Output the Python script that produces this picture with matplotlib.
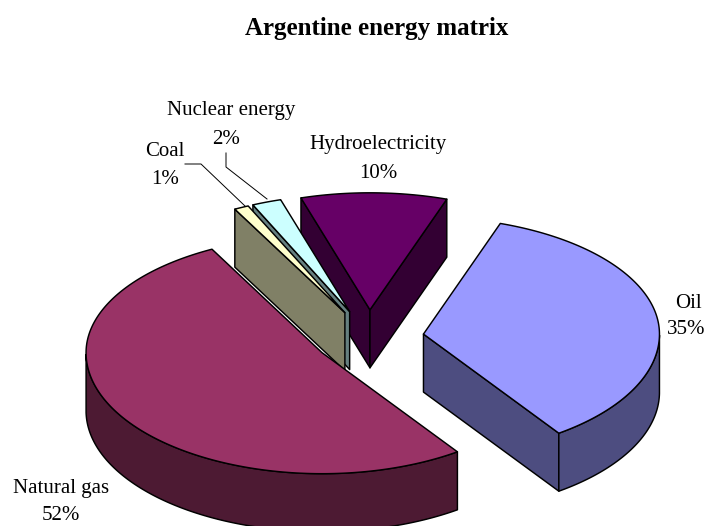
import numpy as np
import matplotlib
matplotlib.use('Agg')
import matplotlib.pyplot as plt
from matplotlib.patches import Polygon

plt.rcParams['font.family'] = ['Liberation Serif', 'DejaVu Serif']

# clockwise from the first slice
names = ['Oil', 'Natural gas', 'Coal', 'Nuclear energy', 'Hydroelectricity']
values = [35, 52, 1, 2, 10]
top_colors = ['#9999FF', '#993366', '#FFFFCC', '#CCFFFF', '#660066']
side_colors = ['#4D4D80', '#4D1A33', '#808066', '#668080', '#330033']

name_pos = [(688, 303), (61, 488), (165, 152), (231, 111), (378, 145)]
pct_pos = [(686, 330), (61, 515), (165, 180), (226, 139), (378, 173)]
leaders = [
    [(185, 164), (201, 164), (245, 206)],
    [(226, 153), (226, 167), (267, 199)],
]

# pie geometry, in pixels; the far half of the ellipse is a bit flatter
cx, cy = 369, 338
rx, ry_front, ry_back = 236, 121, 117
depth = 58
explode = 55
first_angle = 71
lw = 1.05


def rim(x0, y0, ts):
    ts = np.radians(ts)
    s = np.sin(ts)
    return np.column_stack([x0 + rx * np.cos(ts),
                            y0 - np.where(s > 0, ry_back, ry_front) * s])


def face(ax, pts, color):
    ax.add_patch(Polygon(pts, closed=True, facecolor=color, edgecolor='black',
                         linewidth=lw, joinstyle='round'))


def draw_slice(ax, start, end, top, side):
    # start > end, the slice runs clockwise
    mid = np.radians((start + end) / 2)
    x0 = cx + explode * np.cos(mid)
    y0 = cy - explode * ry_front / rx * np.sin(mid)
    down = np.array([0, depth])
    apex = np.array([x0, y0])

    # cut faces that look towards the viewer
    for t, visible in ((start, np.cos(np.radians(start)) < 0),
                       (end, np.cos(np.radians(end)) > 0)):
        if visible:
            p = rim(x0, y0, [t])[0]
            face(ax, [apex, p, p + down, apex + down], side)

    # outer wall, only the front half of the rim
    ts = np.linspace(start, end, 200)
    front = ts[np.sin(np.radians(ts)) < 0]
    if len(front) > 1:
        upper = rim(x0, y0, front)
        face(ax, np.vstack([upper, upper[::-1] + down]), side)

    face(ax, np.vstack([[apex], rim(x0, y0, ts)]), top)


fig = plt.figure(figsize=(7.04, 5.26), dpi=100)
ax = fig.add_axes([0, 0, 1, 1])
ax.set_xlim(0, 704)
ax.set_ylim(526, 0)
ax.axis('off')

# slice angles from the values
sweeps = np.array(values) / sum(values) * 360
starts = first_angle - np.concatenate([[0], np.cumsum(sweeps)[:-1]])
ends = starts - sweeps

# back to front
for i in [4, 3, 2, 0, 1]:
    draw_slice(ax, starts[i], ends[i], top_colors[i], side_colors[i])

for line in leaders:
    xs, ys = zip(*line)
    ax.plot(xs, ys, color='black', lw=0.7)

for name, value, p1, p2 in zip(names, values, name_pos, pct_pos):
    ax.text(p1[0], p1[1], name, fontsize=15, ha='center', va='center')
    ax.text(p2[0], p2[1], f'{value}%', fontsize=15, ha='center', va='center')

ax.text(377, 29, 'Argentine energy matrix', fontsize=18, fontweight='bold',
        ha='center', va='center')

fig.savefig('out.png', dpi=100)
